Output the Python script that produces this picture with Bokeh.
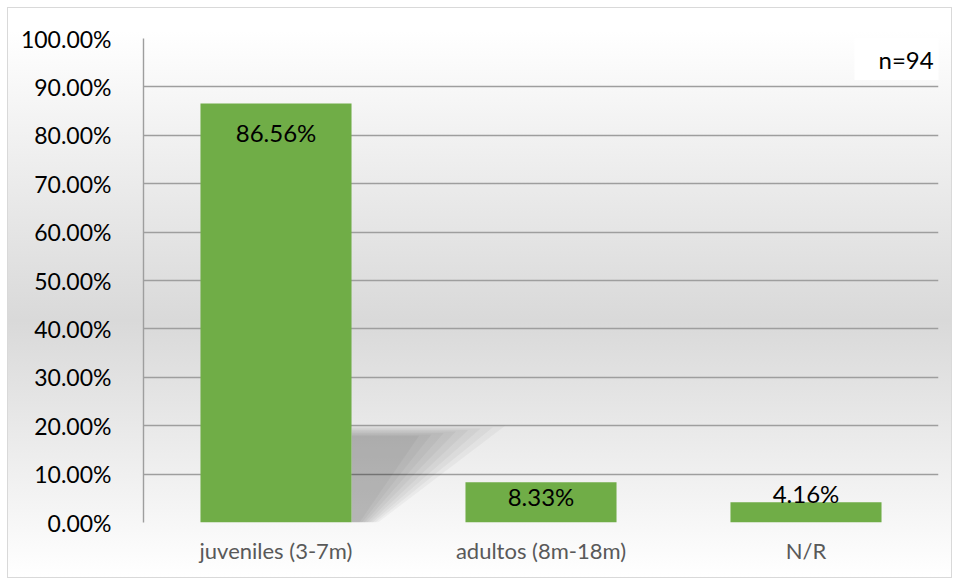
from bokeh.plotting import figure
from bokeh.models import ColumnDataSource, FixedTicker, NumeralTickFormatter, Range1d, Label
from bokeh.core.properties import value
from bokeh.embed import file_html
from bokeh.resources import INLINE

categories = ["juveniles (3-7m)", "adultos (8m-18m)", "N/R"]
values = [0.8656, 0.0833, 0.0416]
labels = ["86.56%", "8.33%", "4.16%"]
y_ticks = [0.0, 0.1, 0.2, 0.3, 0.4, 0.5, 0.6, 0.7, 0.8, 0.9, 1.0]
note = "n=94"

FONT = "Lato"
GREEN = "#70AD47"
GRID = "#9E9E9E"

xpos = [i + 0.5 for i in range(len(categories))]
src = ColumnDataSource(dict(x=xpos, top=values, label=labels,
                            yoff=[14, 0, -23]))

p = figure(frame_width=795, frame_height=484,
           min_border_left=135, min_border_right=13,
           min_border_top=30, min_border_bottom=55,
           x_range=Range1d(0, len(categories)), y_range=Range1d(0, 1),
           output_backend="svg", toolbar_location=None)

p.border_fill_color = None
p.background_fill_color = None
p.outline_line_color = None
p.styles = {
    "background": "linear-gradient(to bottom, #FFFFFF 0%, #FFFFFF 4%, #D9D9D9 55%, #FFFFFF 100%)",
    "border": "1px solid #D9D9D9",
    "margin": "7px 0px 0px 7px",
}

# perspective shadow behind the first bar (decorative)
bar_w = 0.57
right = xpos[0] + bar_w / 2
for k in range(8):
    s = 1 - 0.08 * k
    p.patch([right, right + 0.58 * s, right + 0.03 + 0.01 * (7 - k), right],
            [0.200 - 0.003 * k, 0.200 - 0.003 * k, 0.0, 0.0],
            fill_color="black", fill_alpha=0.035, line_color=None)

p.vbar(x="x", top="top", width=bar_w, source=src, fill_color=GREEN, line_color=None)

p.text(x="x", y="top", text="label", y_offset="yoff", source=src,
       text_align="center", text_baseline="top", text_color="black",
       text_font=value(FONT), text_font_size="24px")

# axes
p.yaxis.ticker = FixedTicker(ticks=y_ticks)
p.yaxis.formatter = NumeralTickFormatter(format="0.00%")
p.yaxis.axis_line_color = GRID
p.yaxis.axis_line_width = 1.4
p.yaxis.major_tick_line_color = None
p.yaxis.minor_tick_line_color = None
p.yaxis.major_label_standoff = 26
p.yaxis.major_label_text_font = FONT
p.yaxis.major_label_text_font_size = "23px"
p.yaxis.major_label_text_color = "black"

p.xaxis.ticker = FixedTicker(ticks=xpos)
p.xaxis.major_label_overrides = {x: c for x, c in zip(xpos, categories)}
p.xaxis.axis_line_color = None
p.xaxis.major_tick_line_color = None
p.xaxis.minor_tick_line_color = None
p.xaxis.major_label_standoff = 8
p.xaxis.major_label_text_font = FONT
p.xaxis.major_label_text_font_size = "22px"
p.xaxis.major_label_text_color = "#595959"

p.xgrid.grid_line_color = None
p.ygrid.ticker = FixedTicker(ticks=y_ticks)
p.ygrid.grid_line_color = GRID
p.ygrid.grid_line_width = 1.4

p.add_layout(Label(x=2.872, y=0.9618, text=note, text_align="center",
                   text_baseline="middle", text_font=FONT,
                   text_font_size="24px", text_color="black",
                   background_fill_color="white", padding=(24, 21, 11, 6)))

open("out.html", "w").write(file_html(p, INLINE))
